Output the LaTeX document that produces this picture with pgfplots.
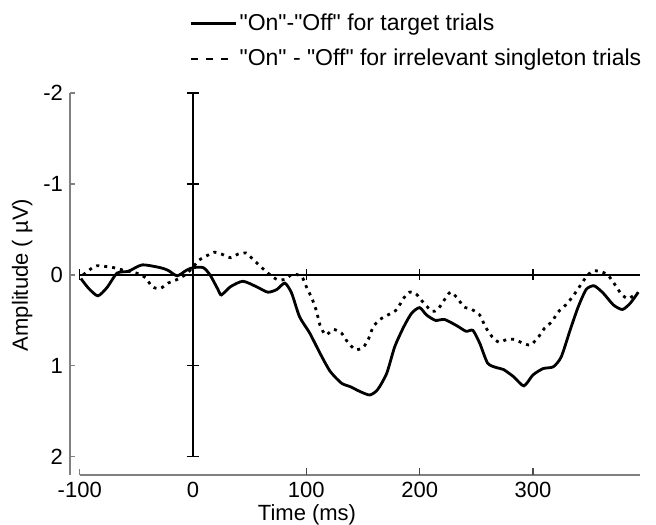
\documentclass[border=0pt]{standalone}
\usepackage{pgfplots}
\pgfplotsset{compat=1.18}
\usepackage{fontspec}
\setmainfont{Liberation Sans}[Ligatures=TeXOff]
\pgfplotsset{
  solidleg/.style={legend image code/.code={\draw[black, line width=1.4pt] (0pt,0pt) -- (22.5pt,0pt);}},
  dashleg/.style={legend image code/.code={\draw[black, line width=1.4pt, dash pattern=on 3.5pt off 4pt] (0pt,0pt) -- (18.5pt,0pt); \path (22.5pt,0pt);}},
}
\begin{document}
\begin{tikzpicture}[x=1pt,y=1pt]
\useasboundingbox (0,0) rectangle (328,262);
\begin{axis}[
  at={(35pt,24.5pt)}, anchor=south west,
  scale only axis, width=285pt, height=191pt,
  xmin=-108.6, xmax=394.5, ymin=-2, ymax=2.2,
  y dir=reverse,
  clip=false,
  axis line style={draw=none},
  tick style={draw=none},
  xtick={-100,0,100,200,300}, xticklabels={-100,0,100,200,300},
  ytick={-2,-1,0,1,2}, yticklabels={-2,-1,0,1,2},
  tick label style={font=\fontsize{11}{13}\selectfont},
  xlabel={Time (ms)}, ylabel={Amplitude ( µV)},
  every axis x label/.style={at={(axis description cs:0.4158,-0.105)}, anchor=center, font=\fontsize{11}{13}\selectfont},
  every axis y label/.style={at={(axis description cs:-0.084,0.5236)}, anchor=center, rotate=90, font=\fontsize{11}{13}\selectfont},
  legend style={at={(axis description cs:0.2095,1.135)}, anchor=west, draw=none, fill=none,
    inner sep=0pt, row sep=5.8pt, font=\fontsize{11.5}{14}\selectfont, nodes={inner sep=1pt}},
  legend cell align=left,
]
% axes drawn by hand
\draw[gray, line width=0.6pt] (axis cs:-108.6,-2) -- (axis cs:-108.6,2.2);
\draw[gray, line width=0.6pt] (axis cs:-108.6,-2) -- (axis cs:-104,-2);
\draw[gray, line width=0.6pt] (axis cs:-108.6,-1) -- (axis cs:-104,-1);
\draw[gray, line width=0.6pt] (axis cs:-108.6,0) -- (axis cs:-104,0);
\draw[gray, line width=0.6pt] (axis cs:-108.6,1) -- (axis cs:-104,1);
\draw[gray, line width=0.6pt] (axis cs:-108.6,2) -- (axis cs:-104,2);
\draw[gray, line width=0.6pt] (axis cs:-100,2.2) -- (axis cs:394.5,2.2);
\draw[gray, line width=0.6pt] (axis cs:-100,2.2) -- (axis cs:-100,2.13);
\draw[gray!60!black, line width=0.6pt] (axis cs:100,2.2) -- (axis cs:100,2.12);
\draw[gray!60!black, line width=0.6pt] (axis cs:200,2.2) -- (axis cs:200,2.12);
\draw[gray!60!black, line width=0.6pt] (axis cs:300,2.2) -- (axis cs:300,2.12);
% zero line
\draw[black, line width=0.6pt] (axis cs:-100,0) -- (axis cs:394.5,0);
\draw[black, line width=0.6pt] (axis cs:-100,-0.06) -- (axis cs:-100,0.06);
\draw[black, line width=0.6pt] (axis cs:100,-0.06) -- (axis cs:100,0.06);
\draw[black, line width=0.6pt] (axis cs:200,-0.06) -- (axis cs:200,0.06);
\draw[black, line width=0.6pt] (axis cs:300,-0.06) -- (axis cs:300,0.06);
% vertical line at 0
\draw[black, line width=0.6pt] (axis cs:0,-2) -- (axis cs:0,2);
\draw[black, line width=0.6pt] (axis cs:-5.5,-2) -- (axis cs:5.5,-2);
\draw[black, line width=0.6pt] (axis cs:-5.5,-1) -- (axis cs:5.5,-1);
\draw[black, line width=0.6pt] (axis cs:-5.5,1) -- (axis cs:5.5,1);
\draw[black, line width=0.6pt] (axis cs:-5.5,2) -- (axis cs:5.5,2);

\addplot[black, line width=1.4pt, smooth, tension=0.4, solidleg]
coordinates {
(-99,0.04) (-92,0.15) (-84,0.23) (-76,0.14) (-67,-0.02) (-57,-0.04) (-45,-0.11)
(-29,-0.08) (-22,-0.05) (-14,0.01) (-6,-0.05) (0,-0.08) (9,-0.08) (15,0) (22,0.16)
(25,0.22) (33,0.13) (44,0.07) (56,0.13) (66,0.19) (74,0.16) (81,0.09) (87,0.2)
(94,0.46) (103,0.64) (112,0.86) (121,1.06) (131,1.19) (139,1.23) (147,1.28)
(156,1.32) (163,1.26) (171,1.08) (178,0.79) (186,0.57) (193,0.42) (200,0.36)
(206,0.44) (214,0.50) (222,0.49) (233,0.56) (241,0.62) (247,0.61) (253,0.75)
(260,0.97) (268,1.02) (274,1.04) (283,1.12) (292,1.22) (300,1.10) (309,1.03)
(318,1.01) (325,0.90) (333,0.60) (340,0.35) (347,0.16) (354,0.12) (362,0.20)
(371,0.33) (379,0.38) (386,0.31) (393,0.19)
};
\addlegendentry{"On"-"Off" for target trials}

\addplot[black, line width=1.4pt, dash pattern=on 1.5pt off 2.5pt, smooth, tension=0.4, dashleg]
coordinates {
(-97,0) (-92,-0.05) (-85,-0.10) (-70,-0.08) (-61,-0.05) (-50,-0.02) (-42,0.03)
(-36,0.13) (-29,0.15) (-22,0.09) (-14,0.05) (-7,0) (-1,-0.07) (5,-0.16) (12,-0.21)
(19,-0.25) (25,-0.23) (33,-0.19) (40,-0.23) (47,-0.24) (53,-0.17) (59,-0.10)
(66,-0.02) (74,0.05) (81,0.05) (88,-0.01) (96,0.02) (100,0.13) (105,0.26)
(109,0.40) (112,0.55) (117,0.66) (124,0.60) (131,0.64) (136,0.73) (143,0.82)
(150,0.80) (155,0.70) (159,0.57) (165,0.49) (172,0.44) (180,0.38) (185,0.27)
(191,0.19) (197,0.21) (203,0.30) (211,0.40) (216,0.38) (221,0.29) (227,0.19)
(233,0.25) (239,0.35) (246,0.38) (253,0.44) (258,0.57) (264,0.68) (270,0.74)
(277,0.71) (284,0.71) (291,0.75) (298,0.77) (305,0.68) (310,0.59) (317,0.51)
(322,0.41) (329,0.33) (335,0.24) (340,0.15) (346,0.04) (352,-0.04) (359,-0.04)
(366,0) (372,0.10) (378,0.21) (384,0.26) (392,0.20)
};
\addlegendentry{"On" - "Off" for irrelevant singleton trials}
\end{axis}
\end{tikzpicture}
\end{document}
